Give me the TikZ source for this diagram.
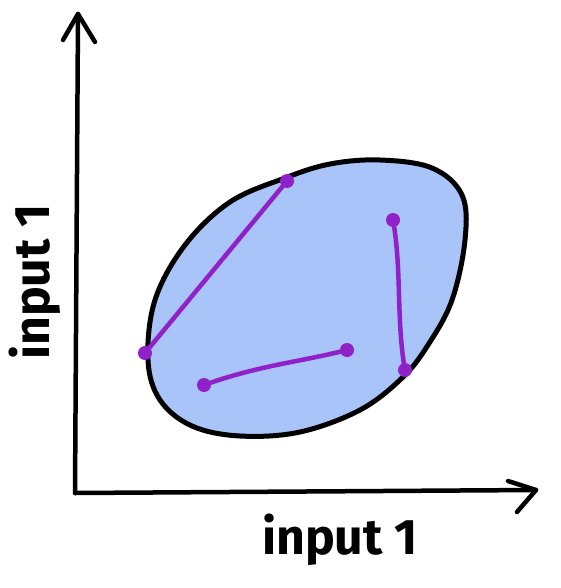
\documentclass[tikz,border=0pt]{standalone}
\usepackage{fontspec}
\setmainfont{Fira Sans}
\definecolor{blobfill}{HTML}{A8C4F8}
\definecolor{seg}{HTML}{9020C8}
\tikzset{
  axis/.style={line width=4.5pt, line cap=round, line join=round},
  blob/.style={line width=5pt, fill=blobfill, draw=black},
  segline/.style={line width=4.5pt, draw=seg, line cap=round},
  dot/.style={circle, fill=seg, inner sep=0pt, minimum size=14pt},
  lbl/.style={font=\fontsize{50}{50}\selectfont\bfseries, inner sep=0pt}
}
\begin{document}
\begin{tikzpicture}[x=1pt,y=-1pt]
\useasboundingbox (0,0) rectangle (560,588);
% blob
\draw[blob] plot[smooth cycle, tension=0.6] coordinates {
(380,160) (432,168) (462,195) (465,240) (452,300) (428,345) (402,378) (360,410) (300,432) (240,436) (192,426) (160,400) (148,360) (155,300) (185,245) (230,202) (285,178) (330,164)};
% axes
\coordinate (o) at (75,493);
\coordinate (ytip) at (78,14);
\coordinate (xtip) at (536,490);
\draw[axis] (o) -- (ytip);
\draw[axis] (63,40) -- (ytip) -- (95,42);
\draw[axis] (o) -- (xtip);
\draw[axis] (508,481) -- (xtip) -- (517,512);
% segments
\node[dot] (a1) at (145,353) {};
\node[dot] (a2) at (287,181) {};
\node[dot] (b1) at (204,385) {};
\node[dot] (b2) at (347,350) {};
\node[dot] (c1) at (393,220) {};
\node[dot] (c2) at (405,370) {};
\draw[segline] (a1.center) -- (a2.center);
\draw[segline] (b1.center) .. controls (260,365) and (300,362) .. (b2.center);
\draw[segline] (c1.center) .. controls (402,270) and (396,320) .. (c2.center);
% labels
\node[lbl] (xl) at (340,540) {input 1};
\node[lbl, rotate=90] (yl) at (35,282) {input 1};
\end{tikzpicture}
\end{document}
